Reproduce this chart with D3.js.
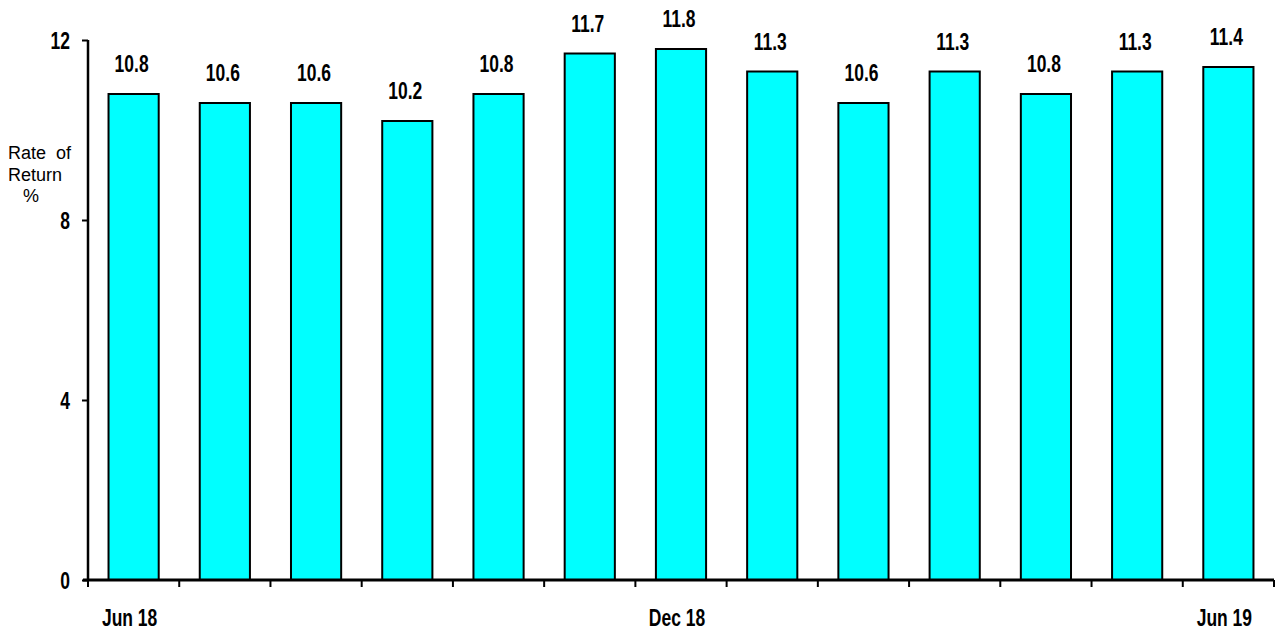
<!DOCTYPE html>
<html>
<head>
<meta charset="utf-8">
<script src="https://cdn.jsdelivr.net/npm/d3@7"></script>
<style>
  html, body { margin: 0; padding: 0; background: #fff; }
  svg { display: block; }
  .narrow { font-family: "Liberation Sans", Arial, sans-serif; font-weight: bold; }
</style>
</head>
<body>
<svg id="chart" width="1281" height="637"></svg>
<script>
const categories = ["Jun 18","Jul 18","Aug 18","Sep 18","Oct 18","Nov 18","Dec 18","Jan 19","Feb 19","Mar 19","Apr 19","May 19","Jun 19"];
const values = [10.8, 10.6, 10.6, 10.2, 10.8, 11.7, 11.8, 11.3, 10.6, 11.3, 10.8, 11.3, 11.4];
const shownLabels = ["Jun 18", "Dec 18", "Jun 19"];
const yTicks = [0, 4, 8, 12];
const yTitle = ["Rate  of", "Return", "   %"];

(function () {
const svg = d3.select("#chart");
const mLeft = 88, mRight = 1274, mTop = 40, mBottom = 580;
const FS = 23, SX = 0.76;

const x = d3.scaleBand().domain(categories).range([mLeft, mRight]).paddingInner(0.45).paddingOuter(0.225);
const xb = d3.scaleBand().domain(categories).range([mLeft, mRight]);
const y = d3.scaleLinear().domain([0, 12]).range([mBottom, mTop]);

// bars
svg.append("g").selectAll("rect").data(values).join("rect")
  .attr("x", (d, i) => x(categories[i]))
  .attr("y", d => y(d))
  .attr("width", x.bandwidth())
  .attr("height", d => y(0) - y(d))
  .attr("fill", "#00FFFF")
  .attr("stroke", "#000")
  .attr("stroke-width", 2);

// value labels
svg.append("g").selectAll("text").data(values).join("text")
  .attr("class", "narrow")
  .attr("transform", (d, i) => `translate(${x(categories[i]) + x.bandwidth() / 2 - 2},${y(d) - 22}) scale(${SX},1)`)
  .attr("text-anchor", "middle")
  .attr("font-size", FS)
  .attr("fill", "#000")
  .text(d => d.toFixed(1));

// y axis
const yAxis = svg.append("g").attr("transform", `translate(${mLeft},0)`)
  .call(d3.axisLeft(y).tickValues(yTicks).tickSize(6).tickFormat(d3.format("d")));
yAxis.select(".domain").attr("stroke", "#000").attr("stroke-width", 2.5)
  .attr("d", `M0,${mTop}V${mBottom}`);
yAxis.selectAll(".tick line").attr("stroke", "#000").attr("stroke-width", 2);
yAxis.selectAll(".tick text").attr("class", "narrow").attr("font-size", FS)
  .attr("x", 0).attr("dy", "0.36em").attr("fill", "#000")
  .attr("transform", `translate(-18,0) scale(${SX},1)`);

// x axis
const xAxis = svg.append("g").attr("transform", `translate(0,${mBottom})`)
  .call(d3.axisBottom(xb).tickSize(0).tickFormat(d => shownLabels.includes(d) ? d : ""));
xAxis.select(".domain").attr("stroke", "#000").attr("stroke-width", 3)
  .attr("d", `M${mLeft - 5},0H${mRight}`);
xAxis.selectAll(".tick text").attr("class", "narrow").attr("font-size", FS)
  .attr("fill", "#000").attr("y", 0).attr("dy", 0)
  .attr("transform", `translate(-4,46) scale(${SX},1)`);
// boundary ticks
const bounds = categories.map(c => xb(c)).concat([mRight]);
xAxis.append("g").selectAll("line").data(bounds).join("line")
  .attr("x1", d => d).attr("x2", d => d)
  .attr("y1", 0).attr("y2", 7)
  .attr("stroke", "#000").attr("stroke-width", 2);

// y title
const t = svg.append("text").attr("font-family", "'Liberation Sans', Arial, sans-serif")
  .attr("font-size", 18).attr("fill", "#000").attr("xml:space", "preserve");
yTitle.forEach((s, i) => {
  t.append("tspan").attr("x", 8).attr("y", 159 + i * 21.5).text(s);
});
})();
</script>
</body>
</html>
